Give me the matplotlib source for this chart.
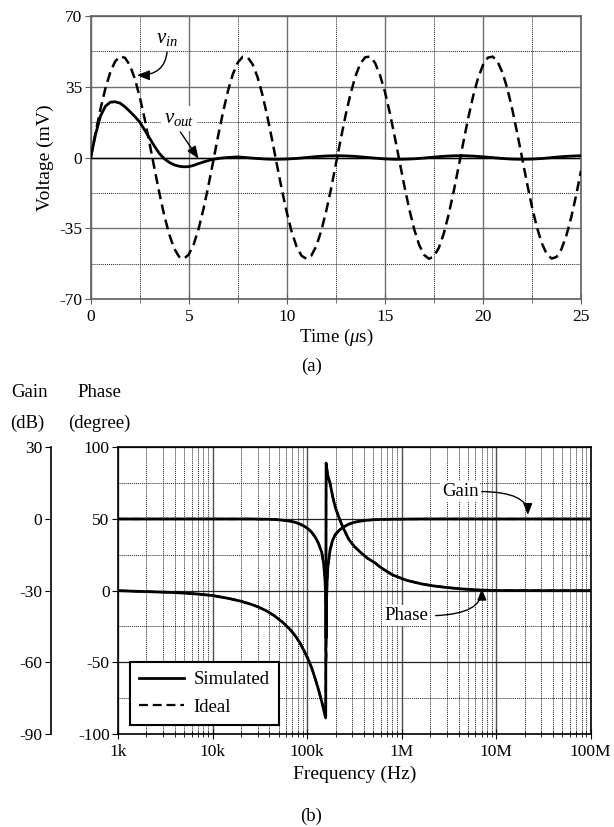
import numpy as np
import matplotlib.pyplot as plt
from matplotlib.ticker import MultipleLocator, LogLocator, FixedLocator, FixedFormatter, NullFormatter

plt.rcParams['font.family'] = ['Liberation Serif', 'DejaVu Serif']
plt.rcParams['mathtext.fontset'] = 'custom'
plt.rcParams['mathtext.rm'] = 'Liberation Serif'
plt.rcParams['mathtext.it'] = 'Liberation Serif:italic'
plt.rcParams['axes.unicode_minus'] = False

# ---- (a) transient response, time in us, voltage in mV ----
t_in = np.arange(0, 25.01, 0.25)
v_in = [0, 12.4, 24.0, 34.1, 42.1, 47.5, 49.9, 49.2, 45.5, 38.9,
        29.9, 19.1, 7.1, -5.4, -17.5, -28.6, -37.8, -44.8, -48.9, -50.0,
        -47.9, -42.9, -35.3, -25.4, -14.0, -1.7, 10.8, 22.5, 32.9, 41.2,
        46.9, 49.7, 49.5, 46.1, 39.9, 31.2, 20.6, 8.7, -3.8, -16.0,
        -27.2, -36.8, -44.0, -48.5, -50.0, -48.4, -43.8, -36.4, -26.8, -15.7,
        -3.3, 9.1, 21.0, 31.5, 40.2, 46.4, 49.5, 49.8, 46.7, 40.7,
        32.5, 22.1, 10.3, -2.1, -14.4, -25.8, -35.6, -43.2, -48.1, -50.0,
        -48.8, -44.6, -37.6, -28.2, -17.1, -5.0, 7.5, 19.5, 30.3, 39.2,
        45.6, 49.3, 49.8, 47.3, 41.8, 33.8, 23.6, 11.9, -0.4, -12.8,
        -24.4, -34.4, -42.3, -47.6, -49.9, -49.1, -45.3, -38.6, -29.6, -18.7,
        -6.6]

t_out = np.r_[np.arange(0, 7.01, 0.25), np.arange(7.5, 25.01, 0.5)]
v_out = [0, 11.5, 20.5, 25.3, 27.3, 27.5, 26.8, 25.0, 22.7, 20.2,
         17.5, 13.6, 9.6, 5.6, 2.0, -0.6, -2.4, -3.6, -4.3, -4.6,
         -4.5, -3.9, -3.0, -2.2, -1.5, -0.9, -0.5, -0.2, 0.0,
         0.3, -0.1, -0.5, -0.8, -0.9, -0.75, -0.45, 0, 0.45, 0.75,
         0.9, 0.8, 0.55, 0.1, -0.3, -0.7, -0.9, -0.85, -0.65, -0.25,
         0.2, 0.6, 0.85, 0.9, 0.7, 0.35, -0.05, -0.5, -0.8, -0.9,
         -0.8, -0.5, -0.05, 0.4, 0.7, 0.9]

# ---- (b) frequency response ----
freq_khz = [1, 2, 3.25, 5, 7, 10, 15, 20, 25, 30, 37, 45, 55, 66, 75, 84, 93, 103, 112, 122,
            132, 143, 150, 155, 157.5, 159, 160.5, 163, 166, 175, 186, 198, 220, 242, 275,
            314, 364, 435, 520, 592, 641, 800, 1130, 1600, 2170, 3000, 4160, 6800, 10000,
            30000, 100000]
phase_sim = [0, -0.7, -1.1, -1.7, -2.4, -3.4, -5.5, -7.4, -9.3, -11.2, -14.0, -17.5, -22.0,
             -27.0, -31.5, -36.5, -42.0, -48.0, -54.0, -61.5, -69.0, -77.5, -83.0, -87.5,
             -88.0, 89.0, 86.5, 83.5, 80.0, 75.0, 66.0, 58.6, 50.0, 43.5, 36.0, 31.0, 27.0,
             22.6, 19.5, 16.5, 15.0, 11.0, 7.2, 4.8, 3.3, 2.2, 1.3, 0.4, 0.1, 0, 0]
phase_ideal = [0, -0.7, -1.1, -1.7, -2.4, -3.4, -5.5, -7.4, -9.3, -11.2, -14.0, -17.5, -22.0,
               -27.0, -31.5, -36.5, -42.0, -48.0, -54.0, -61.5, -69.0, -77.5, -83.0, -87.5,
               -89.0, 89.5, 86.5, 83.5, 80.0, 75.0, 66.0, 58.6, 50.0, 43.5, 36.0, 31.0, 27.0,
               22.6, 19.5, 16.5, 15.0, 11.0, 7.2, 4.8, 3.3, 2.2, 1.3, 0.4, 0.1, 0, 0]
gain_sim = [0, 0, 0, 0, 0, 0, 0, 0, 0, -0.05, -0.1, -0.2, -0.5, -0.9, -1.4, -2.1, -3.0, -4.2,
            -5.6, -7.6, -10.2, -14.0, -19.0, -26.0, -34.0, -50.0, -34.0, -26.0, -20.0, -13.0,
            -9.0, -6.6, -4.6, -3.4, -2.2, -1.4, -0.9, -0.5, -0.3, -0.2, -0.15, -0.1, -0.05,
            0, 0, 0, 0, 0, 0, 0, 0]
gain_ideal = [0, 0, 0, 0, 0, 0, 0, 0, 0, -0.05, -0.1, -0.2, -0.5, -0.9, -1.4, -2.1, -3.0, -4.2,
              -5.6, -7.6, -10.2, -14.0, -19.0, -26.0, -36.0, -60.0, -36.0, -26.0, -20.0, -13.0,
              -9.0, -6.6, -4.6, -3.4, -2.2, -1.4, -0.9, -0.5, -0.3, -0.2, -0.15, -0.1, -0.05,
              0, 0, 0, 0, 0, 0, 0, 0]
freq = np.array(freq_khz) * 1e3

W, H = 614, 827
fig = plt.figure(figsize=(W / 100, H / 100), dpi=100)


def fx(x):
    return x / W


def fy(y):
    return 1 - y / H


FS = 12.5
major_grid = dict(color='#707070', lw=1.0, ls='-')
minor_grid = dict(color='#202020', lw=0.7, ls=(0, (1, 1)))

# ---------------- (a) ----------------
ax1 = fig.add_axes([fx(90.7), fy(299.3), fx(581) - fx(90.7), fy(15.7) - fy(299.3)])
ax1.plot(t_in, v_in, color='k', lw=1.8, ls=(0, (4, 2.2)), zorder=3)
ax1.plot(t_out, v_out, color='k', lw=2.0, zorder=4)
ax1.set_xlim(0, 25)
ax1.set_ylim(-70, 70)
ax1.set_xticks(range(0, 26, 5))
ax1.xaxis.set_minor_locator(MultipleLocator(2.5))
ax1.set_yticks([-70, -35, 0, 35, 70])
ax1.yaxis.set_minor_locator(MultipleLocator(17.5))
ax1.grid(True, which='major', **major_grid)
ax1.grid(True, which='minor', **minor_grid)
ax1.axhline(0, color='k', lw=1.0, zorder=2)
ax1.set_axisbelow(True)
ax1.tick_params(axis='both', which='both', labelsize=FS, color='#606060')
ax1.tick_params(axis='x', which='major', direction='inout', length=7)
ax1.tick_params(axis='x', which='minor', direction='inout', length=6)
ax1.tick_params(axis='y', which='major', direction='out', length=4, pad=2)
ax1.tick_params(axis='y', which='minor', length=0)
for s in ax1.spines.values():
    s.set_color('#606060')
    s.set_linewidth(1.2)
ax1.set_xlabel('Time ($\\mu$s)', fontsize=FS + 1, labelpad=1)
ax1.set_ylabel('Voltage (mV)', fontsize=FS + 1.5, labelpad=4)

ax1.annotate('$v_{in}$', xy=(2.36, 40.6), xytext=(3.9, 58.8), fontsize=15,
             ha='center', va='center',
             arrowprops=dict(arrowstyle='-|>,head_length=0.5,head_width=0.2', color='k', lw=1.0,
                             connectionstyle='angle3,angleA=-90,angleB=0',
                             relpos=(0.5, 0.0), shrinkA=1, shrinkB=0))
ax1.annotate('$v_{out}$', xy=(5.5, -0.6), xytext=(4.5, 19.4), fontsize=15,
             ha='center', va='center',
             bbox=dict(boxstyle='square,pad=0.15', fc='white', ec='none'),
             arrowprops=dict(arrowstyle='-|>,head_length=0.5,head_width=0.2', color='k', lw=1.0,
                             relpos=(0.45, 0.0), shrinkA=1, shrinkB=0))

fig.text(fx(312), fy(366), '(a)', fontsize=FS + 1, ha='center', va='center')

# ---------------- (b) ----------------
ax = fig.add_axes([fx(118), fy(734), fx(590.7) - fx(118), fy(447.3) - fy(734)])
ax.set_xscale('log')
ax.set_xlim(1e3, 1e8)
ax.set_ylim(-100, 100)
ax.set_yticks([-100, -50, 0, 50, 100])
ax.yaxis.set_minor_locator(MultipleLocator(25))
ax.xaxis.set_major_locator(FixedLocator([1e3, 1e4, 1e5, 1e6, 1e7, 1e8]))
ax.xaxis.set_major_formatter(FixedFormatter(['1k', '10k', '100k', '1M', '10M', '100M']))
ax.xaxis.set_minor_locator(LogLocator(base=10, subs=np.arange(2, 10), numticks=20))
ax.xaxis.set_minor_formatter(NullFormatter())
ax.grid(True, which='major', axis='x', color='#505050', lw=1.0, ls='-')
ax.grid(True, which='major', axis='y', color='#202020', lw=0.9, ls='-')
ax.grid(True, which='minor', **minor_grid)
ax.set_axisbelow(True)
ax.tick_params(axis='both', which='both', labelsize=FS, color='k')
ax.tick_params(axis='x', which='major', direction='inout', length=7, pad=4)
ax.tick_params(axis='x', which='minor', direction='inout', length=5)
ax.tick_params(axis='y', which='major', direction='out', length=4, pad=2)
ax.tick_params(axis='y', which='minor', length=0)
for s in ax.spines.values():
    s.set_color('k')
    s.set_linewidth(1.2)
ax.set_xlabel('Frequency (Hz)', fontsize=FS + 1.5, labelpad=4)

ax.plot(freq, phase_ideal, color='k', lw=1.6, ls=(0, (4, 2.2)), zorder=3)
ax.plot(freq, phase_sim, color='k', lw=2.0, zorder=4)

ax2 = ax.twinx()
ax2.set_ylim(-90, 30)
ax2.set_yticks([-90, -60, -30, 0, 30])
for side in ('right', 'top', 'bottom'):
    ax2.spines[side].set_visible(False)
ax2.spines['left'].set_visible(True)
ax2.spines['left'].set_position(('axes', (50.7 - 118) / (590.7 - 118)))
ax2.spines['left'].set_linewidth(1.2)
ax2.yaxis.tick_left()
ax2.tick_params(axis='y', which='both', left=True, right=False, labelleft=True, labelright=False,
                direction='out', length=4, pad=2, labelsize=FS)
l_ideal, = ax2.plot(freq, gain_ideal, color='k', lw=1.6, ls=(0, (4, 2.2)), zorder=3)
l_sim, = ax2.plot(freq, gain_sim, color='k', lw=2.0, zorder=4)

leg = ax2.legend([l_sim, l_ideal], ['Simulated', 'Ideal'], loc='lower left',
                 bbox_to_anchor=(0.025, 0.031), fontsize=FS + 1, fancybox=False,
                 edgecolor='k', framealpha=1, handlelength=2.4, handletextpad=0.5,
                 borderpad=0.5, labelspacing=0.55, borderaxespad=0)
leg.get_frame().set_linewidth(1.5)
leg.set_zorder(10)

ax2.annotate('Gain', xy=(2.16e7, 1.7), xytext=(4.16e6, 11.5), fontsize=FS + 1,
             ha='center', va='center',
             bbox=dict(boxstyle='square,pad=0.1', fc='white', ec='none'),
             arrowprops=dict(arrowstyle='-|>,head_length=0.5,head_width=0.2', color='k', lw=1.0,
                             connectionstyle='angle3,angleA=0,angleB=90',
                             relpos=(1.0, 0.5), shrinkA=1, shrinkB=0))
ax2.annotate('Phase', xy=(7.06e6, -29.2), xytext=(1.12e6, -40.5), fontsize=FS + 1,
             ha='center', va='center',
             bbox=dict(boxstyle='square,pad=0.1', fc='white', ec='none'),
             arrowprops=dict(arrowstyle='-|>,head_length=0.5,head_width=0.2', color='k', lw=1.0,
                             connectionstyle='angle3,angleA=0,angleB=90',
                             relpos=(1.0, 0.5), shrinkA=4, shrinkB=0))

fig.text(fx(29.5), fy(393), 'Gain', fontsize=FS + 1, ha='center', va='center')
fig.text(fx(99.5), fy(393), 'Phase', fontsize=FS + 1, ha='center', va='center')
fig.text(fx(27.5), fy(423), '(dB)', fontsize=FS + 1, ha='center', va='center')
fig.text(fx(99.5), fy(423), '(degree)', fontsize=FS + 1, ha='center', va='center')
fig.text(fx(311), fy(816), '(b)', fontsize=FS + 1, ha='center', va='center')

fig.savefig('out.png', dpi=100)
